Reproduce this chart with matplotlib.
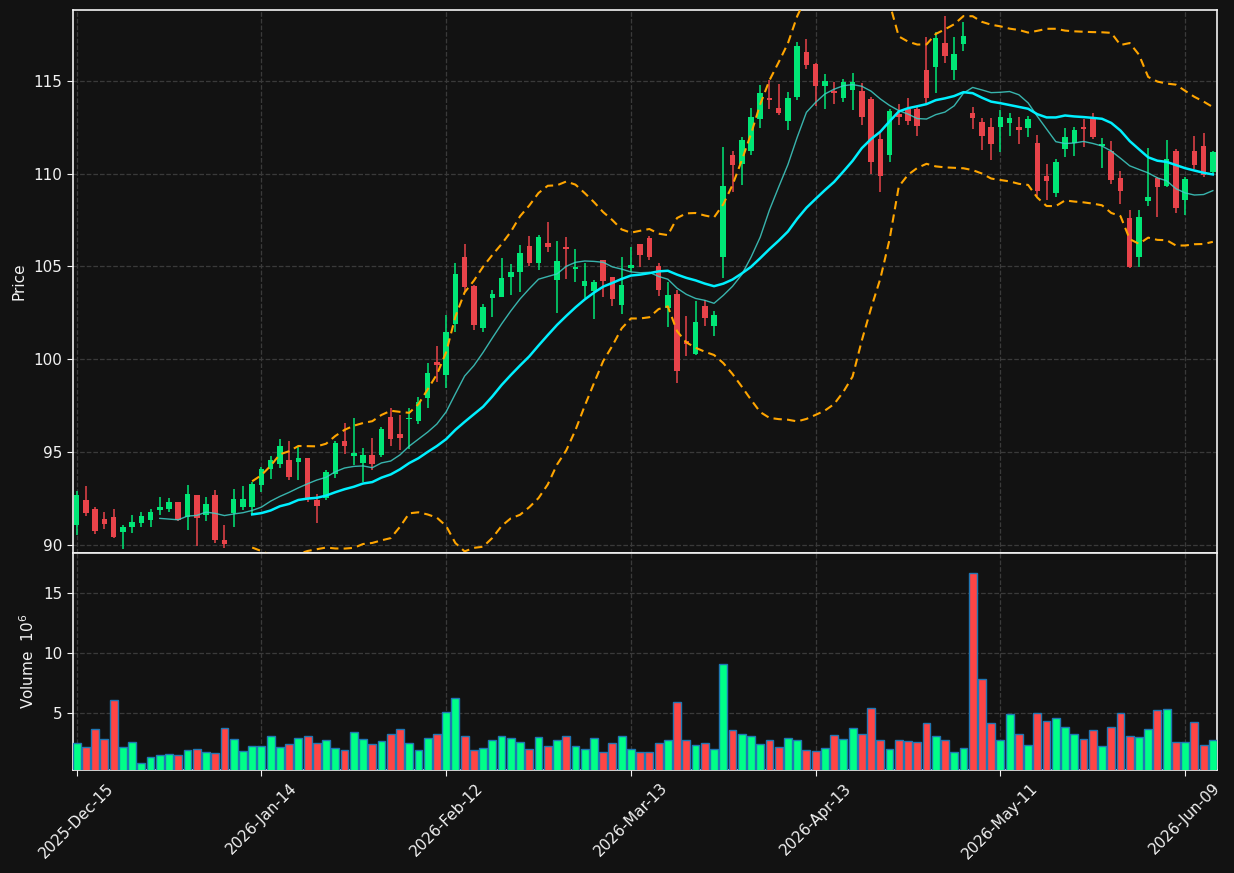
import numpy as np
import pandas as pd
import matplotlib
matplotlib.use("Agg")
import matplotlib.pyplot as plt

# trading days (NYSE calendar)
holidays = ["2025-12-25", "2026-01-01", "2026-01-19", "2026-02-16", "2026-04-03", "2026-05-25"]
dates = pd.bdate_range("2025-12-15", "2026-06-12", freq="C", holidays=holidays)

opens = [91.03, 92.38, 91.89, 91.40, 91.46, 90.67, 90.94, 91.15, 91.31, 91.85,
         91.91, 92.27, 91.48, 92.65, 91.58, 92.65, 90.27, 91.71, 92.00, 92.00,
         93.19, 94.10, 94.32, 94.54, 94.43, 94.64, 92.39, 92.52, 93.78, 95.56,
         94.75, 94.39, 94.81, 94.81, 96.86, 95.94, 96.75, 96.64, 97.88, 99.83,
         99.13, 101.88, 105.50, 103.93, 101.66, 103.28, 103.34, 104.42, 104.69, 106.09,
         105.17, 106.25, 104.26, 106.04, 104.85, 103.93, 103.66, 105.33, 104.42, 102.92,
         104.90, 106.20, 106.52, 105.01, 102.74, 103.50, 100.96, 100.28, 102.85, 101.79,
         105.51, 111.00, 110.54, 111.24, 112.95, 114.08, 113.54, 112.84, 114.15, 116.57,
         115.92, 114.73, 114.48, 114.08, 114.51, 114.46, 114.03, 111.87, 111.00, 113.22,
         113.51, 113.49, 115.59, 115.77, 117.03, 115.59, 117.00, 113.27, 112.79, 112.52,
         112.52, 112.73, 112.52, 112.46, 111.65, 109.87, 108.95, 111.35, 111.67, 112.52,
         113.07, 111.51, 111.22, 109.76, 107.60, 105.52, 108.54, 109.76, 109.33, 111.22,
         108.59, 111.22, 111.49, 110.07]

highs = [92.88, 93.13, 92.03, 91.78, 91.94, 91.03, 91.60, 91.78, 91.89, 92.59,
         92.52, 92.30, 93.19, 92.68, 92.59, 92.92, 91.08, 93.01, 93.13, 93.35,
         94.18, 94.79, 95.71, 95.56, 95.26, 94.68, 92.72, 94.03, 95.56, 96.57,
         96.84, 95.18, 95.76, 96.34, 97.38, 96.97, 97.38, 97.97, 99.81, 100.73,
         102.40, 105.17, 106.20, 103.98, 102.96, 103.71, 105.48, 105.12, 106.14, 106.63,
         106.68, 107.37, 106.36, 106.58, 105.93, 105.17, 104.26, 105.37, 104.45, 105.52,
         106.05, 106.23, 106.63, 105.16, 104.17, 103.72, 102.33, 103.14, 103.18, 102.58,
         111.42, 111.22, 111.98, 113.52, 114.78, 115.05, 114.84, 114.41, 117.09, 117.27,
         115.95, 115.38, 114.95, 115.11, 115.43, 114.89, 114.12, 112.21, 113.51, 113.76,
         114.08, 113.60, 117.38, 117.65, 118.51, 117.36, 118.17, 113.58, 112.98, 112.98,
         113.43, 113.27, 113.06, 113.11, 112.08, 110.55, 110.79, 112.46, 112.52, 112.95,
         113.29, 111.90, 111.76, 110.14, 108.03, 108.02, 111.36, 109.80, 111.81, 111.33,
         109.80, 112.03, 112.17, 111.22]

lows = [90.49, 91.53, 90.58, 90.83, 90.34, 89.77, 90.63, 90.94, 90.94, 91.58,
        91.75, 91.26, 90.79, 89.91, 91.26, 90.07, 89.82, 90.94, 91.84, 91.66,
        92.81, 93.53, 94.12, 93.46, 93.49, 92.29, 91.15, 92.41, 93.60, 94.86,
        94.27, 93.35, 94.00, 94.72, 95.31, 95.08, 95.17, 96.48, 97.36, 98.77,
        98.42, 101.45, 103.61, 101.56, 101.45, 102.27, 103.34, 103.46, 103.63, 105.01,
        104.80, 105.77, 102.47, 104.31, 104.15, 103.28, 102.17, 103.36, 102.89, 102.42,
        104.71, 104.98, 105.33, 103.43, 101.74, 98.71, 100.19, 100.22, 101.79, 101.27,
        104.40, 109.01, 109.37, 111.00, 112.44, 113.49, 113.16, 112.35, 113.95, 115.67,
        113.65, 113.49, 113.76, 113.87, 113.42, 112.62, 109.96, 109.04, 110.64, 112.64,
        112.64, 112.05, 113.83, 114.37, 115.97, 115.05, 116.64, 112.39, 111.29, 110.75,
        111.18, 112.05, 111.60, 111.99, 108.79, 108.59, 108.77, 110.91, 110.97, 111.45,
        111.89, 110.32, 109.47, 108.38, 104.94, 104.97, 108.27, 107.64, 109.26, 107.89,
        107.80, 110.25, 109.83, 110.00]

closes = [92.65, 91.69, 90.72, 91.10, 90.40, 90.92, 91.24, 91.55, 91.78, 92.05,
          92.27, 91.31, 92.75, 91.42, 92.21, 90.23, 90.05, 92.43, 92.43, 93.29,
          94.05, 94.54, 95.29, 93.62, 94.64, 92.43, 92.07, 93.89, 95.45, 95.29,
          94.91, 94.81, 94.32, 96.21, 95.67, 95.72, 96.80, 97.67, 99.23, 99.67,
          101.45, 104.58, 103.88, 101.83, 102.80, 103.50, 104.36, 104.69, 105.71, 105.17,
          106.58, 106.04, 105.28, 105.93, 104.96, 104.20, 104.15, 104.20, 103.23, 103.98,
          105.06, 105.60, 105.50, 103.72, 103.45, 99.36, 100.84, 101.99, 102.22, 102.37,
          109.33, 110.48, 111.81, 113.06, 114.35, 113.97, 113.27, 114.08, 116.89, 115.86,
          114.73, 115.00, 114.37, 114.95, 114.95, 113.06, 110.64, 109.89, 113.38, 113.07,
          112.86, 112.59, 114.10, 117.32, 116.33, 116.46, 117.43, 113.00, 112.03, 111.60,
          113.06, 113.00, 112.36, 112.95, 109.06, 109.60, 110.62, 111.98, 112.36, 112.41,
          111.99, 111.60, 109.65, 109.08, 104.97, 107.66, 108.74, 109.29, 110.79, 108.16,
          109.71, 110.46, 109.92, 111.17]

# volume in millions
volumes = [2.5, 2.17, 3.67, 2.83, 6.08, 2.17, 2.58, 0.83, 1.33, 1.5,
           1.58, 1.5, 1.92, 2.0, 1.75, 1.67, 3.75, 2.83, 1.83, 2.25,
           2.25, 3.08, 2.17, 2.42, 2.92, 3.08, 2.5, 2.75, 2.08, 1.92,
           3.42, 2.83, 2.42, 2.67, 3.25, 3.67, 2.5, 1.92, 2.92, 3.25,
           5.08, 6.25, 3.08, 1.92, 2.08, 2.75, 3.08, 2.92, 2.58, 2.0,
           3.0, 2.25, 2.75, 3.08, 2.25, 2.0, 2.92, 1.75, 2.5, 3.08,
           2.0, 1.75, 1.75, 2.5, 2.75, 5.92, 2.75, 2.33, 2.5, 2.0,
           9.08, 3.58, 3.25, 3.08, 2.42, 2.75, 2.17, 2.92, 2.75, 1.92,
           1.83, 2.08, 3.17, 2.83, 3.75, 3.25, 5.42, 2.75, 2.0, 2.75,
           2.67, 2.58, 4.17, 3.08, 2.75, 1.75, 2.08, 16.67, 7.83, 4.17,
           2.75, 4.92, 3.25, 2.33, 5.0, 4.33, 4.58, 3.83, 3.25, 2.83,
           3.58, 2.25, 3.83, 5.0, 3.08, 3.0, 3.67, 5.25, 5.33, 2.58,
           2.58, 4.25, 2.33, 2.75]

bg = "#121212"
fg = "#f2f2f2"
up_c, dn_c = "#00e676", "#e8434a"
vup_c, vdn_c = "#00ff88", "#ff4545"

o = np.array(opens); h = np.array(highs); l = np.array(lows); c = np.array(closes)
v = np.array(volumes)
x = np.arange(len(dates))
up = c >= o

cs = pd.Series(c)
mav10 = cs.rolling(10).mean()
mav20 = cs.rolling(20).mean()
std20 = cs.rolling(20).std()
bb_up = mav20 + 2 * std20
bb_lo = mav20 - 2 * std20

plt.rcParams["font.size"] = 11
fig = plt.figure(figsize=(12.34, 8.73), dpi=100, facecolor=bg)
W, H = 1234, 873
ax = fig.add_axes([72.5 / W, 1 - 552.5 / H, (1217 - 72.5) / W, (552.5 - 10) / H])
axv = fig.add_axes([72.5 / W, 1 - 770 / H, (1217 - 72.5) / W, (770 - 552.5) / H], sharex=ax)

for a in (ax, axv):
    a.set_facecolor(bg)
    for s in a.spines.values():
        s.set_color(fg)
        s.set_linewidth(1.2)
    a.tick_params(colors=fg, labelsize=11, length=4)
    a.grid(True, color="#3a3a3a", linestyle="--", linewidth=0.9)
    a.set_axisbelow(True)

# candles
cols = np.where(up, up_c, dn_c)
ax.vlines(x, l, h, colors=cols, linewidth=1.1, zorder=2)
body_lo = np.minimum(o, c)
body_h = np.maximum(np.abs(c - o), 0.06)
ax.bar(x, body_h, bottom=body_lo, width=0.6, color=cols, linewidth=0, zorder=3)

# moving averages + bands
ax.plot(x, mav10, color="#3fd0c8", linewidth=1.0, alpha=0.85, zorder=4)
ax.plot(x, mav20, color="#00f0ff", linewidth=1.8, zorder=4)
ax.plot(x, bb_up, color="#ffa500", linestyle=(0, (4, 2.5)), linewidth=1.5, zorder=4)
ax.plot(x, bb_lo, color="#ffa500", linestyle=(0, (4, 2.5)), linewidth=1.5, zorder=4)

ax.set_ylim(89.57, 118.83)
ax.set_yticks([90, 95, 100, 105, 110, 115])
ax.set_ylabel("Price", color=fg, labelpad=5)
plt.setp(ax.get_xticklabels(), visible=False)

# volume
vcols = np.where(up, vup_c, vdn_c)
axv.bar(x, v, width=0.85, color=vcols, edgecolor="#1f77b4", linewidth=1.0, zorder=3)
axv.set_ylim(0.3 * v.min(), 1.1 * v.max())
axv.set_yticks([5, 10, 15])
axv.set_ylabel("Volume  $10^{6}$", color=fg, labelpad=4)

ticks = list(range(0, len(dates), 20))
axv.set_xticks(ticks)
axv.set_xticklabels([dates[i].strftime("%Y-%b-%d") for i in ticks], rotation=45, ha="center")
axv.set_xlim(-0.45, len(dates) - 0.55)

fig.savefig("out.png", dpi=100, facecolor=bg)
